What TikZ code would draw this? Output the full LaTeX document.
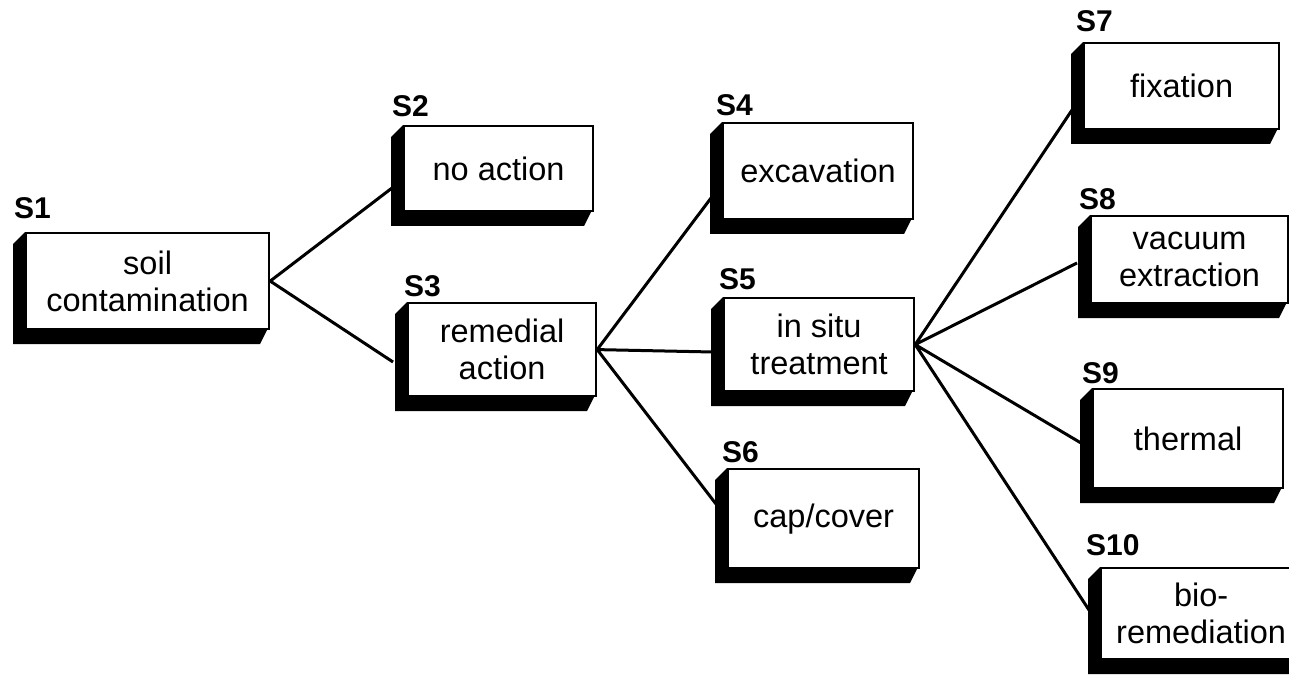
\documentclass[tikz,border=0pt]{standalone}
\usepackage{fontspec}
\setmainfont{Liberation Sans}
\usetikzlibrary{backgrounds}
\tikzset{
  front/.style={draw=black, line width=2.2pt, fill=white, anchor=north west, inner sep=0pt,
    align=center, font=\fontsize{32.5}{37}\selectfont},
  tag/.style={anchor=base west, inner sep=0pt, font=\fontsize{30}{30}\selectfont\bfseries},
  link/.style={draw=black, line width=3pt},
  shade3d/.style={fill=black}
}
% #1 name, #2 x1, #3 y1, #4 x2, #5 y2, #6 label, #7 text, #8 label x, #9 label y
\newcommand{\stagebox}[9]{%
  \fill[shade3d] (#2,#3) -- (#2-12,#3+12) -- (#2-12,#5+16) -- (#4-8,#5+16) -- (#4,#5) -- cycle;
  \pgfmathsetmacro{\bw}{#4-#2}\pgfmathsetmacro{\bh}{#5-#3}%
  \node[front, minimum width=\bw pt, minimum height=\bh pt] (#1) at (#2,#3) {#7};
  \node[tag] (#1tag) at (#8,#9) {#6};
}
\begin{document}
\begin{tikzpicture}[x=1pt,y=-1pt]
\useasboundingbox (0,0) rectangle (1289,676);
\stagebox{s1}{25}{232}{268}{328}{S1}{soil\\contamination}{14}{219}
\stagebox{s2}{403}{125}{592}{210}{S2}{no action}{392}{117}
\stagebox{s3}{407}{302}{595}{395}{S3}{remedial\\action}{404}{296}
\stagebox{s4}{722}{122}{912}{218}{S4}{excavation}{716}{116}
\stagebox{s5}{723}{297}{913}{390}{S5}{in situ\\treatment}{719}{289}
\stagebox{s6}{727}{468}{918}{567}{S6}{cap/cover}{722}{462}
\stagebox{s7}{1083}{42}{1278}{128}{S7}{fixation}{1076}{32}
\stagebox{s8}{1090}{215}{1287}{302}{S8}{vacuum\\extraction}{1079}{210}
\stagebox{s9}{1092}{388}{1282}{487}{S9}{thermal}{1082}{383}
\stagebox{s10}{1100}{567}{1300}{658}{S10}{bio-\\remediation}{1086}{555}
\coordinate (s2in) at (392,188);
\coordinate (s3in) at (393,362);
\coordinate (s4in) at (711,198);
\coordinate (s5in) at (713,352);
\coordinate (s6in) at (716,504);
\coordinate (s7in) at (1076,104);
\coordinate (s8in) at (1077,263);
\coordinate (s9in) at (1081,443);
\coordinate (s10in) at (1089,610);
\begin{pgfonlayer}{background}
\path[link] (s1.east) -- (s2in) (s1.east) -- (s3in);
\path[link] (s3.east) -- (s4in) (s3.east) -- (s5in) (s3.east) -- (s6in);
\path[link] (s5.east) -- (s7in) (s5.east) -- (s8in) (s5.east) -- (s9in) (s5.east) -- (s10in);
\end{pgfonlayer}
\end{tikzpicture}
\end{document}
